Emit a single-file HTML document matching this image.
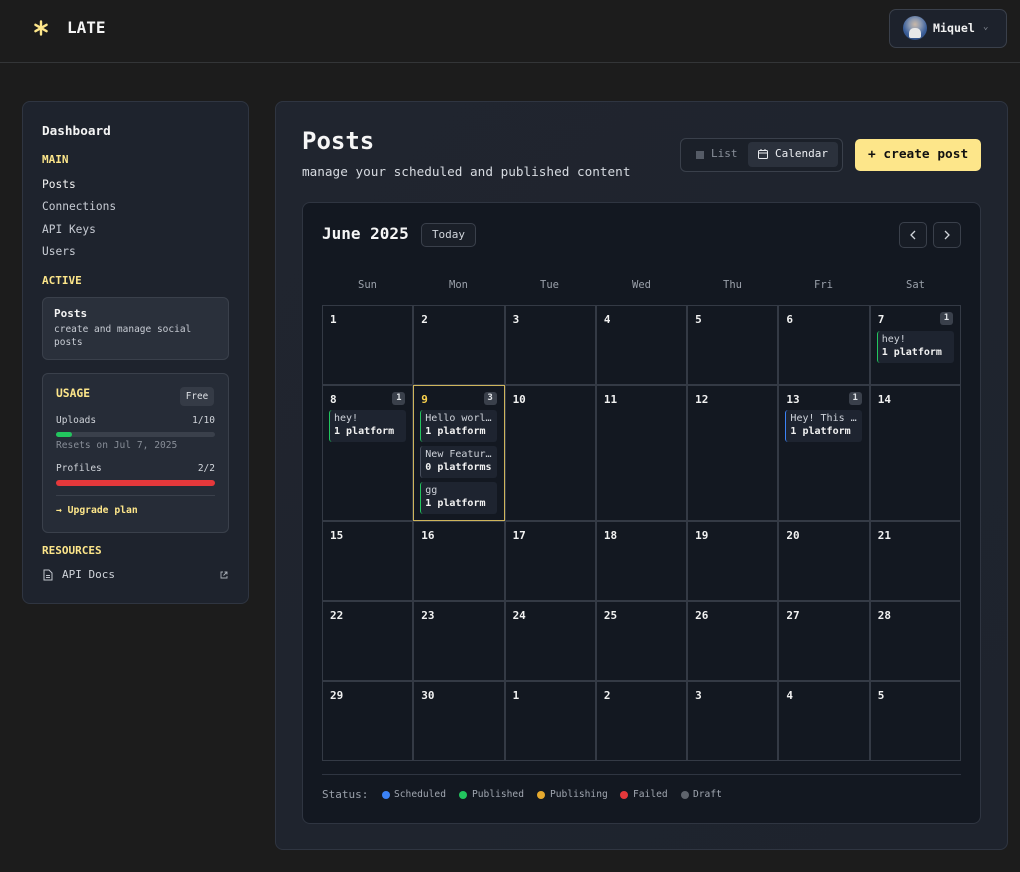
<!DOCTYPE html>
<html><head><meta charset="utf-8"><style>
*{box-sizing:border-box;margin:0;padding:0}
body{width:1020px;height:872px;overflow:hidden;background:#1c1c1c;font-family:"DejaVu Sans Mono","Liberation Mono",monospace;color:#e8eaee;position:relative}
.a{position:absolute;white-space:nowrap;line-height:20px}
.b{font-weight:bold}
.y{color:#fde68a}
.box{position:absolute}
.grid{position:absolute;left:322px;top:305px;width:639px;height:456px;display:grid;grid-template-columns:repeat(7,1fr);grid-template-rows:80px 136px 80px 80px 80px}
.c{position:relative;border:1px solid #343a45;}
.n{position:absolute;left:7px;top:7px;font-size:11px;font-weight:bold;line-height:14px;color:#f2f2f2}
.bd{position:absolute;right:7px;top:6px;min-width:13px;height:13px;padding:0 3px;background:#3a404b;border-radius:3px;font-size:9px;font-weight:bold;line-height:13px;text-align:center;color:#dfe2e6}
.ch{position:absolute;left:6px;width:77px;height:32px;background:#1e2430;border-left:1px solid #22c55e;border-radius:3px;padding:2px 0 0 4px;font-size:10px;line-height:13px;overflow:hidden}
.ch .t1{color:#cfd3da}
.ch .t2{font-weight:bold;color:#f2f2f2}
.dh{position:absolute;top:275px;width:91px;text-align:center;font-size:10.5px;color:#9aa0aa;line-height:20px}
.dot{position:absolute;width:8px;height:8px;border-radius:50%;top:791px}
.lg{position:absolute;top:785px;font-size:9.6px;color:#a0a6b0;line-height:20px}
</style></head><body>

<!-- header -->
<div class="box" style="left:0;top:62px;width:1020px;height:1px;background:#333537"></div>
<svg class="box" style="left:33px;top:20px" width="16" height="16" viewBox="0 0 16 16"><g stroke="#fde68a" stroke-width="2.4" stroke-linecap="round"><line x1="8" y1="1.5" x2="8" y2="14.5"/><line x1="2.4" y1="4.8" x2="13.6" y2="11.2"/><line x1="2.4" y1="11.2" x2="13.6" y2="4.8"/></g></svg>
<div class="a b" style="left:67px;top:18px;font-size:16px;color:#f4f4f4">LATE</div>
<div class="box" style="left:889px;top:9px;width:118px;height:39px;border:1px solid #3a404b;border-radius:7px;background:#1d222c"></div>
<div class="box" style="left:903px;top:16px;width:24px;height:24px;border-radius:50%;background:radial-gradient(circle at 50% 35%,#c9b8a8 0,#8a98b0 30%,#3b5f9a 60%,#2a3f66 100%)"></div>
<div class="box" style="left:909px;top:28px;width:12px;height:10px;border-radius:5px 5px 2px 2px;background:#e8e8e8"></div>
<div class="a b" style="left:933px;top:18px;font-size:11.6px;color:#f0f0f0">Miquel</div>
<div class="a" style="left:983px;top:17px;font-size:9px;color:#8a909a">⌄</div>

<!-- sidebar -->
<div class="box" style="left:22px;top:101px;width:227px;height:503px;background:#1e232d;border:1px solid #2f3541;border-radius:8px"></div>
<div class="a b" style="left:42px;top:121px;font-size:12.7px;color:#f4f4f4">Dashboard</div>
<div class="a b y" style="left:42px;top:150px;font-size:11px">MAIN</div>
<div class="a" style="left:42px;top:175px;font-size:11.2px;color:#f4f4f4">Posts</div>
<div class="a" style="left:42px;top:197px;font-size:11.2px;color:#c8ccd4">Connections</div>
<div class="a" style="left:42px;top:220px;font-size:11.2px;color:#c8ccd4">API Keys</div>
<div class="a" style="left:42px;top:242px;font-size:11.2px;color:#c8ccd4">Users</div>
<div class="a b y" style="left:42px;top:271px;font-size:11px">ACTIVE</div>
<div class="box" style="left:42px;top:297px;width:187px;height:63px;background:#2a303b;border:1px solid #3a404b;border-radius:6px"></div>
<div class="a b" style="left:54px;top:304px;font-size:11px;color:#f4f4f4">Posts</div>
<div class="a" style="left:54px;top:323px;font-size:9.5px;line-height:13px;color:#c8ccd4">create and manage social<br>posts</div>
<div class="box" style="left:42px;top:373px;width:187px;height:160px;background:#262c37;border:1px solid #3a404b;border-radius:6px"></div>
<div class="a b y" style="left:56px;top:384px;font-size:11.3px">USAGE</div>
<div class="box" style="left:180px;top:387px;width:34px;height:19px;background:#353b46;border-radius:4px;font-size:9.3px;line-height:19px;text-align:center;color:#dfe2e6">Free</div>
<div class="a" style="left:56px;top:411px;font-size:9.5px;color:#d0d4da">Uploads</div>
<div class="a" style="left:150px;top:411px;width:65px;text-align:right;font-size:9.5px;color:#d0d4da">1/10</div>
<div class="box" style="left:56px;top:432px;width:159px;height:5px;border-radius:3px;background:#3a404b"></div>
<div class="box" style="left:56px;top:432px;width:16px;height:5px;border-radius:3px;background:#22c55e"></div>
<div class="a" style="left:56px;top:436px;font-size:9.6px;color:#878d97">Resets on Jul 7, 2025</div>
<div class="a" style="left:56px;top:459px;font-size:9.5px;color:#d0d4da">Profiles</div>
<div class="a" style="left:150px;top:459px;width:65px;text-align:right;font-size:9.5px;color:#d0d4da">2/2</div>
<div class="box" style="left:56px;top:480px;width:159px;height:6px;border-radius:3px;background:#e5383b"></div>
<div class="box" style="left:56px;top:495px;width:159px;height:1px;background:#3a404b"></div>
<div class="a b y" style="left:56px;top:501px;font-size:9.7px">→ Upgrade plan</div>
<div class="a b y" style="left:42px;top:541px;font-size:11px">RESOURCES</div>
<svg class="box" style="left:43px;top:569px" width="10" height="12" viewBox="0 0 10 12"><path d="M1 1h5l3 3v7H1z" fill="none" stroke="#c0c4cc" stroke-width="1"/><line x1="3" y1="6.5" x2="7" y2="6.5" stroke="#c0c4cc"/><line x1="3" y1="8.5" x2="7" y2="8.5" stroke="#c0c4cc"/></svg>
<div class="a" style="left:62px;top:565px;font-size:11px;color:#d0d4da">API Docs</div>
<svg class="box" style="left:220px;top:571px" width="8" height="8" viewBox="0 0 8 8"><path d="M3 1H1v6h6V5M4.5 1H7v2.5M7 1L3.5 4.5" fill="none" stroke="#aab0b8" stroke-width="0.9"/></svg>

<!-- main panel -->
<div class="box" style="left:275px;top:101px;width:733px;height:749px;background:linear-gradient(135deg,#20252f,#1e232d);border:1px solid #2f3541;border-radius:8px"></div>
<div class="a b" style="left:302px;top:126px;font-size:24px;line-height:30px;color:#f6f6f6">Posts</div>
<div class="a" style="left:302px;top:162px;font-size:12.7px;color:#d6dae0">manage your scheduled and published content</div>
<div class="box" style="left:680px;top:138px;width:163px;height:34px;border:1px solid #3a404b;border-radius:6px;background:#1b2029"></div>
<div class="box" style="left:696px;top:151px;width:8px;height:8px;background:#555b66"></div>
<div class="a" style="left:711px;top:144px;font-size:11px;color:#8a909a">List</div>
<div class="box" style="left:748px;top:142px;width:90px;height:25px;background:#2b313c;border-radius:4px"></div>
<svg class="box" style="left:757px;top:148px" width="12" height="12" viewBox="0 0 12 12"><rect x="1.5" y="2.5" width="9" height="8" rx="1" fill="none" stroke="#e8eaee" stroke-width="1"/><line x1="1.5" y1="5" x2="10.5" y2="5" stroke="#e8eaee"/><line x1="4" y1="1" x2="4" y2="3" stroke="#e8eaee"/><line x1="8" y1="1" x2="8" y2="3" stroke="#e8eaee"/></svg>
<div class="a" style="left:775px;top:144px;font-size:11px;color:#eceef2">Calendar</div>
<div class="box" style="left:855px;top:139px;width:126px;height:32px;background:#fde68a;border-radius:5px"></div>
<div class="a b" style="left:868px;top:145px;font-size:12.8px;color:#111">+ create post</div>

<!-- calendar card -->
<div class="box" style="left:302px;top:202px;width:679px;height:622px;background:#131821;border:1px solid #2f3541;border-radius:8px"></div>
<div class="a b" style="left:322px;top:224px;font-size:16px;color:#f6f6f6">June 2025</div>
<div class="box" style="left:421px;top:223px;width:55px;height:24px;border:1px solid #3a404b;border-radius:5px;background:#1a1f28;font-size:11px;line-height:22px;text-align:center;color:#d0d4da">Today</div>
<div class="box" style="left:899px;top:222px;width:28px;height:26px;border:1px solid #3a404b;border-radius:5px;background:#171c25"></div>
<svg class="box" style="left:909px;top:230px" width="8" height="10" viewBox="0 0 8 10"><path d="M6 1L2 5l4 4" fill="none" stroke="#d0d4da" stroke-width="1.3"/></svg>
<div class="box" style="left:933px;top:222px;width:28px;height:26px;border:1px solid #3a404b;border-radius:5px;background:#171c25"></div>
<svg class="box" style="left:943px;top:230px" width="8" height="10" viewBox="0 0 8 10"><path d="M2 1l4 4-4 4" fill="none" stroke="#d0d4da" stroke-width="1.3"/></svg>

<div class="dh" style="left:322px">Sun</div>
<div class="dh" style="left:413px">Mon</div>
<div class="dh" style="left:504px">Tue</div>
<div class="dh" style="left:596px">Wed</div>
<div class="dh" style="left:687px">Thu</div>
<div class="dh" style="left:778px">Fri</div>
<div class="dh" style="left:870px">Sat</div>

<div class="grid">
<div class="c"><div class="n">1</div></div>
<div class="c"><div class="n">2</div></div>
<div class="c"><div class="n">3</div></div>
<div class="c"><div class="n">4</div></div>
<div class="c"><div class="n">5</div></div>
<div class="c"><div class="n">6</div></div>
<div class="c"><div class="n">7</div><div class="bd">1</div><div class="ch" style="top:25px"><div class="t1">hey!</div><div class="t2">1 platform</div></div></div>

<div class="c"><div class="n">8</div><div class="bd">1</div><div class="ch" style="top:24px"><div class="t1">hey!</div><div class="t2">1 platform</div></div></div>
<div class="c" style="border-color:#cfb55c"><div class="n" style="color:#fcd34d">9</div><div class="bd">3</div>
<div class="ch" style="top:24px"><div class="t1">Hello worl…</div><div class="t2">1 platform</div></div>
<div class="ch" style="top:60px;border-left-color:#4b5260"><div class="t1">New Featur…</div><div class="t2">0 platforms</div></div>
<div class="ch" style="top:96px"><div class="t1">gg</div><div class="t2">1 platform</div></div>
</div>
<div class="c"><div class="n">10</div></div>
<div class="c"><div class="n">11</div></div>
<div class="c"><div class="n">12</div></div>
<div class="c"><div class="n">13</div><div class="bd">1</div><div class="ch" style="top:24px;border-left-color:#3b82f6"><div class="t1">Hey! This …</div><div class="t2">1 platform</div></div></div>
<div class="c"><div class="n">14</div></div>

<div class="c"><div class="n">15</div></div>
<div class="c"><div class="n">16</div></div>
<div class="c"><div class="n">17</div></div>
<div class="c"><div class="n">18</div></div>
<div class="c"><div class="n">19</div></div>
<div class="c"><div class="n">20</div></div>
<div class="c"><div class="n">21</div></div>

<div class="c"><div class="n">22</div></div>
<div class="c"><div class="n">23</div></div>
<div class="c"><div class="n">24</div></div>
<div class="c"><div class="n">25</div></div>
<div class="c"><div class="n">26</div></div>
<div class="c"><div class="n">27</div></div>
<div class="c"><div class="n">28</div></div>

<div class="c"><div class="n">29</div></div>
<div class="c"><div class="n">30</div></div>
<div class="c"><div class="n">1</div></div>
<div class="c"><div class="n">2</div></div>
<div class="c"><div class="n">3</div></div>
<div class="c"><div class="n">4</div></div>
<div class="c"><div class="n">5</div></div>
</div>

<div class="box" style="left:322px;top:774px;width:639px;height:1px;background:#2f3541"></div>
<div class="a" style="left:322px;top:785px;font-size:11px;color:#9aa0aa">Status:</div>
<div class="dot" style="left:382px;background:#3b82f6"></div><div class="lg" style="left:394px">Scheduled</div>
<div class="dot" style="left:459px;background:#22c55e"></div><div class="lg" style="left:472px">Published</div>
<div class="dot" style="left:537px;background:#e5a92e"></div><div class="lg" style="left:550px">Publishing</div>
<div class="dot" style="left:620px;background:#e5383b"></div><div class="lg" style="left:633px">Failed</div>
<div class="dot" style="left:681px;background:#5f646d"></div><div class="lg" style="left:693px">Draft</div>

</body></html>
